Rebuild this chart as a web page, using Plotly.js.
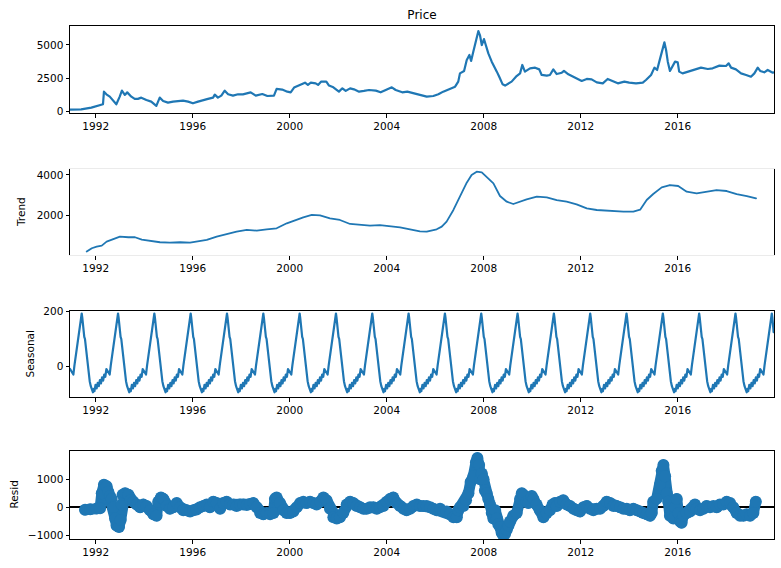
<!DOCTYPE html>
<html>
<head>
<meta charset="utf-8">
<script src="https://cdn.plot.ly/plotly-3.0.1.min.js"></script>
<style>html,body{margin:0;padding:0;background:#fff}#chart{width:781px;height:568px}
#chart .scatterlayer .js-line{stroke-linejoin:round !important;stroke-linecap:round !important}</style>
</head>
<body>
<div id="chart"></div>
<script>
// ---- data (decimal years) ----
const priceT = [1990.94,1991.40,1991.82,1992.09,1992.30,1992.34,1992.44,1992.58,1992.71,1992.85,1992.99,1993.08,1993.20,1993.30,1993.47,1993.61,1993.74,1993.88,1994.09,1994.29,1994.50,1994.64,1994.78,1994.98,1995.19,1995.39,1995.60,1995.81,1996.01,1996.22,1996.42,1996.63,1996.84,1996.91,1997.04,1997.18,1997.32,1997.46,1997.66,1997.87,1998.07,1998.39,1998.60,1998.87,1999.08,1999.35,1999.46,1999.69,1999.90,2000.04,2000.18,2000.38,2000.63,2000.75,2000.87,2001.07,2001.17,2001.30,2001.51,2001.62,2001.80,2002.03,2002.17,2002.31,2002.49,2002.65,2002.86,2003.06,2003.27,2003.55,2003.75,2003.96,2004.21,2004.37,2004.64,2004.85,2005.13,2005.35,2005.65,2005.92,2006.13,2006.33,2006.61,2006.82,2006.95,2007.02,2007.19,2007.30,2007.41,2007.48,2007.57,2007.68,2007.78,2007.85,2007.92,2008.01,2008.12,2008.19,2008.33,2008.42,2008.54,2008.64,2008.78,2008.88,2009.01,2009.15,2009.33,2009.50,2009.59,2009.70,2009.91,2010.12,2010.29,2010.39,2010.60,2010.73,2010.87,2011.01,2011.22,2011.31,2011.49,2011.69,2011.83,2012.04,2012.25,2012.45,2012.66,2012.91,2013.11,2013.32,2013.53,2013.80,2014.00,2014.28,2014.56,2014.69,2014.90,2015.04,2015.15,2015.24,2015.34,2015.45,2015.52,2015.59,2015.68,2015.79,2015.89,2016.00,2016.06,2016.20,2016.41,2016.68,2016.96,2017.24,2017.44,2017.72,2017.99,2018.10,2018.20,2018.40,2018.61,2018.82,2019.02,2019.16,2019.30,2019.40,2019.57,2019.71,2019.92,2019.97];
const priceV = [140,150,285,410,535,1487,1285,1110,860,535,1110,1560,1240,1430,1110,940,940,1035,860,735,410,1035,785,660,735,785,810,735,610,735,860,940,1035,1260,1035,1185,1560,1285,1185,1285,1285,1435,1185,1310,1160,1185,1690,1640,1485,1435,1790,1940,2160,1990,2160,2110,1990,2240,2240,1940,1810,1485,1735,1540,1735,1660,1485,1540,1610,1560,1435,1610,1810,1610,1435,1485,1360,1240,1110,1160,1285,1485,1690,1860,2240,2860,3040,3865,4240,3790,4490,5240,6040,5690,4990,5440,4740,4360,3740,3360,2990,2610,2035,1940,2110,2240,2610,2860,3490,2990,3240,3290,3160,2740,2690,2740,3160,2810,2910,3040,2790,2610,2485,2290,2440,2410,2185,2110,2440,2290,2110,2240,2160,2110,2160,2360,2740,3290,3115,3740,4360,5190,4615,3740,3040,3360,3740,3690,2990,2860,2990,3115,3290,3190,3240,3440,3415,3610,3290,3160,2860,2740,2610,2860,3290,3040,2940,3115,2910,2930];

const trendT = [1991.63,1991.84,1992.04,1992.25,1992.45,1992.73,1993.00,1993.35,1993.62,1993.90,1994.24,1994.65,1995.06,1995.48,1995.89,1996.30,1996.58,1996.99,1997.40,1997.81,1998.23,1998.64,1999.05,1999.46,1999.88,2000.29,2000.56,2000.91,2001.25,2001.66,2002.07,2002.49,2002.90,2003.31,2003.72,2004.14,2004.55,2004.96,2005.37,2005.65,2006.06,2006.27,2006.47,2006.75,2007.02,2007.30,2007.50,2007.71,2007.92,2008.12,2008.40,2008.67,2008.95,2009.22,2009.50,2009.77,2010.19,2010.60,2011.01,2011.42,2011.83,2012.25,2012.66,2013.21,2013.76,2014.17,2014.45,2014.72,2014.99,2015.34,2015.68,2016.02,2016.37,2016.78,2017.19,2017.60,2018.02,2018.43,2018.85,2019.23];
const trendV = [226,393,472,521,717,850,963,933,933,816,752,688,669,688,669,752,801,963,1096,1210,1292,1260,1325,1374,1620,1817,1915,2030,2013,1866,1784,1587,1538,1505,1530,1470,1423,1325,1227,1210,1325,1456,1702,2276,2899,3617,3995,4159,4126,3913,3585,2962,2683,2569,2683,2798,2929,2896,2765,2683,2553,2356,2274,2225,2192,2192,2290,2765,3060,3388,3503,3454,3175,3093,3175,3257,3208,3060,2962,2847];

// seasonal component: one repeating cycle (phase 0 = peak)
const seasonalFirstPeak = 1991.423;
const seasonalPeriod = 1.4977;
const seasonalPhase = [0,0.015,0.03,0.05,0.07,0.09,0.11,0.13,0.16,0.19,0.22,0.25,0.28,0.31,0.33,0.35,0.38,0.41,0.44,0.47,0.50,0.53,0.56,0.59,0.62,0.65,0.68,0.71,0.74,0.77,0.80,0.83,0.86,0.89,0.92,0.95,0.975];
const seasonalCycle = [192,178,150,125,108,100,75,45,10,-30,-52,-70,-82,-92,-80,-88,-65,-78,-58,-70,-48,-60,-38,-50,-28,-36,-8,-14,-22,-28,5,35,60,95,115,150,175];

const residT = [1991.56,1991.77,1992.04,1992.18,1992.25,1992.34,1992.45,1992.52,1992.59,1992.66,1992.73,1992.80,1992.86,1992.96,1993.03,1993.07,1993.11,1993.21,1993.35,1993.44,1993.55,1993.69,1993.83,1993.96,1994.10,1994.24,1994.38,1994.51,1994.58,1994.69,1994.79,1994.93,1995.06,1995.20,1995.34,1995.48,1995.61,1995.75,1995.89,1996.03,1996.16,1996.30,1996.44,1996.58,1996.71,1996.85,1996.99,1997.13,1997.26,1997.40,1997.54,1997.68,1997.81,1997.95,1998.09,1998.23,1998.36,1998.50,1998.64,1998.78,1998.91,1999.05,1999.19,1999.33,1999.39,1999.46,1999.60,1999.74,1999.87,2000.01,2000.15,2000.29,2000.43,2000.56,2000.70,2000.84,2000.97,2001.11,2001.25,2001.39,2001.52,2001.66,2001.80,2001.94,2002.07,2002.21,2002.35,2002.49,2002.62,2002.76,2002.90,2003.04,2003.17,2003.31,2003.45,2003.59,2003.72,2003.86,2004.00,2004.14,2004.27,2004.41,2004.55,2004.69,2004.82,2004.96,2005.10,2005.24,2005.37,2005.51,2005.65,2005.79,2005.92,2006.06,2006.20,2006.34,2006.47,2006.61,2006.75,2006.89,2006.95,2007.02,2007.16,2007.27,2007.37,2007.46,2007.57,2007.68,2007.74,2007.81,2007.85,2007.92,2007.99,2008.05,2008.12,2008.19,2008.26,2008.33,2008.40,2008.47,2008.54,2008.60,2008.67,2008.74,2008.81,2008.88,2008.95,2009.02,2009.08,2009.22,2009.36,2009.50,2009.57,2009.63,2009.77,2009.84,2009.98,2010.05,2010.18,2010.32,2010.46,2010.60,2010.73,2010.84,2010.94,2011.01,2011.15,2011.28,2011.42,2011.56,2011.70,2011.83,2011.97,2012.11,2012.25,2012.38,2012.52,2012.66,2012.80,2012.93,2013.07,2013.21,2013.35,2013.48,2013.62,2013.76,2013.90,2014.03,2014.17,2014.31,2014.45,2014.58,2014.72,2014.86,2014.93,2014.99,2015.13,2015.27,2015.34,2015.41,2015.48,2015.55,2015.61,2015.68,2015.75,2015.82,2015.89,2015.96,2016.03,2016.10,2016.16,2016.23,2016.37,2016.51,2016.65,2016.71,2016.78,2016.92,2017.06,2017.19,2017.33,2017.47,2017.61,2017.74,2017.88,2018.02,2018.16,2018.29,2018.43,2018.57,2018.71,2018.84,2018.98,2019.12,2019.22];
const residV = [-90,-70,-40,-30,500,800,750,550,400,300,0,-400,-650,-700,-450,100,450,500,450,250,200,100,0,100,50,-100,-250,-300,200,350,300,50,-50,0,150,0,-100,-100,-150,-100,-80,0,50,100,0,200,150,-50,150,200,100,100,50,100,100,80,120,150,0,-200,-250,-200,-250,-200,300,350,150,-100,-200,-200,-150,0,150,200,150,200,150,100,200,350,250,-50,-350,-400,-350,-200,100,200,150,50,0,-50,-50,0,0,-50,0,50,200,300,350,150,50,-50,-100,-50,50,100,50,50,50,0,-50,-100,-50,-150,-150,-250,-350,-350,-100,0,50,250,500,900,1100,1600,1750,1500,1000,1200,1000,600,500,300,100,-200,-400,-100,-400,-600,-700,-900,-1000,-950,-800,-650,-500,-300,-200,300,500,450,200,150,400,300,100,-100,-350,-200,-100,100,150,50,200,250,100,50,-50,-100,-150,0,50,-50,-100,-50,-50,50,200,150,50,50,0,-50,-50,-100,-50,-100,-150,-200,-250,-300,-200,200,300,800,1300,1500,1100,500,200,-300,-150,-400,0,300,-200,-500,-550,-300,-200,-150,0,100,-50,-100,-50,50,0,50,0,100,100,200,150,0,-200,-300,-300,-250,-300,-200,200];

const yearTicks = [1992,1996,2000,2004,2008,2012,2016];

// ---- build seasonal series from the read cycle ----
const X0 = priceT[0], X1 = priceT[priceT.length-1];
const seasT = [], seasV = [];
for (let k = -1; k < 20; k++) {
  for (let j = 0; j < seasonalPhase.length; j++) {
    const t = seasonalFirstPeak + (k + seasonalPhase[j]) * seasonalPeriod;
    if (t >= X0 - 0.001 && t <= X1 + 0.001) { seasT.push(t); seasV.push(seasonalCycle[j]); }
  }
}

const BLUE = '#1f77b4';
const FONT = 'DejaVu Sans, Liberation Sans, sans-serif';

const traces = [
  {x: priceT, y: priceV, xaxis:'x', yaxis:'y', type:'scatter', mode:'lines', line:{color:BLUE, width:2.2}, hoverinfo:'skip'},
  {x: trendT, y: trendV, xaxis:'x2', yaxis:'y2', type:'scatter', mode:'lines', line:{color:BLUE, width:1.8}, hoverinfo:'skip'},
  {x: seasT, y: seasV, xaxis:'x3', yaxis:'y3', type:'scatter', mode:'lines', line:{color:BLUE, width:2.2}, hoverinfo:'skip'},
  {x: residT, y: residV, xaxis:'x4', yaxis:'y4', type:'scatter', mode:'lines+markers', line:{color:BLUE, width:11}, marker:{color:BLUE, size:12}, hoverinfo:'skip'}
];

function xax(anchor, lineColor) {
  return {anchor: anchor, range:[X0, X1], tickmode:'array', tickvals: yearTicks, ticktext: yearTicks.map(String),
    ticks:'outside', ticklen:3.5, tickwidth:1, tickcolor:'#000', showline:true, linecolor: lineColor || '#000', linewidth:1,
    mirror:true, showgrid:false, zeroline:false, tickfont:{family:FONT, size:10.5, color:'#000'}};
}
function yax(anchor, domain, range, vals, texts, extra) {
  return Object.assign({anchor: anchor, domain: domain, range: range, tickmode:'array', tickvals: vals, ticktext: texts,
    ticks:'outside', ticklen:3.5, tickwidth:1, tickcolor:'#000', showline:true, linecolor:'#000', linewidth:1,
    mirror:true, showgrid:false, zeroline:false, tickfont:{family:FONT, size:10.5, color:'#000'}}, extra || {});
}

const layout = {
  width:781, height:568, paper_bgcolor:'#fff', plot_bgcolor:'#fff', showlegend:false,
  margin:{l:70, r:7, t:26, b:29},
  font:{family:FONT, color:'#000'},
  title:{text:'Price', font:{family:FONT, size:12, color:'#000'}, x:0.5, xref:'paper', xanchor:'center', y:1-15/568, yref:'container', yanchor:'middle'},
  xaxis: xax('y'),
  xaxis2: xax('y2', '#ebebeb'),
  xaxis3: xax('y3'),
  xaxis4: xax('y4'),
  yaxis: yax('x', [0.8304, 1.0], [-120, 6420], [0,2500,5000], ['0','2500','5000']),
  yaxis2: yax('x2', [0.5536, 0.7212], [60, 4290], [2000,4000], ['2000','4000']),
  yaxis3: yax('x3', [0.2762, 0.4450], [-110, 202], [0,200], ['0','200']),
  yaxis4: yax('x4', [0, 0.1715], [-1125, 2000], [-1000,0,1000], ['\u22121000','0','1000'], {zeroline:true, zerolinecolor:'#000', zerolinewidth:2}),
  annotations: [
    {text:'Trend', xref:'paper', yref:'paper', x:(21-70)/704, y:0.6374, textangle:-90, showarrow:false, xanchor:'center', yanchor:'middle', font:{family:FONT, size:10.5, color:'#000'}},
    {text:'Seasonal', xref:'paper', yref:'paper', x:(30.5-70)/704, y:0.3606, textangle:-90, showarrow:false, xanchor:'center', yanchor:'middle', font:{family:FONT, size:10.5, color:'#000'}},
    {text:'Resid', xref:'paper', yref:'paper', x:(13.5-70)/704, y:0.0858, textangle:-90, showarrow:false, xanchor:'center', yanchor:'middle', font:{family:FONT, size:10.5, color:'#000'}}
  ]
};

Plotly.newPlot('chart', traces, layout, {displayModeBar:false, staticPlot:true});
</script>
</body>
</html>
